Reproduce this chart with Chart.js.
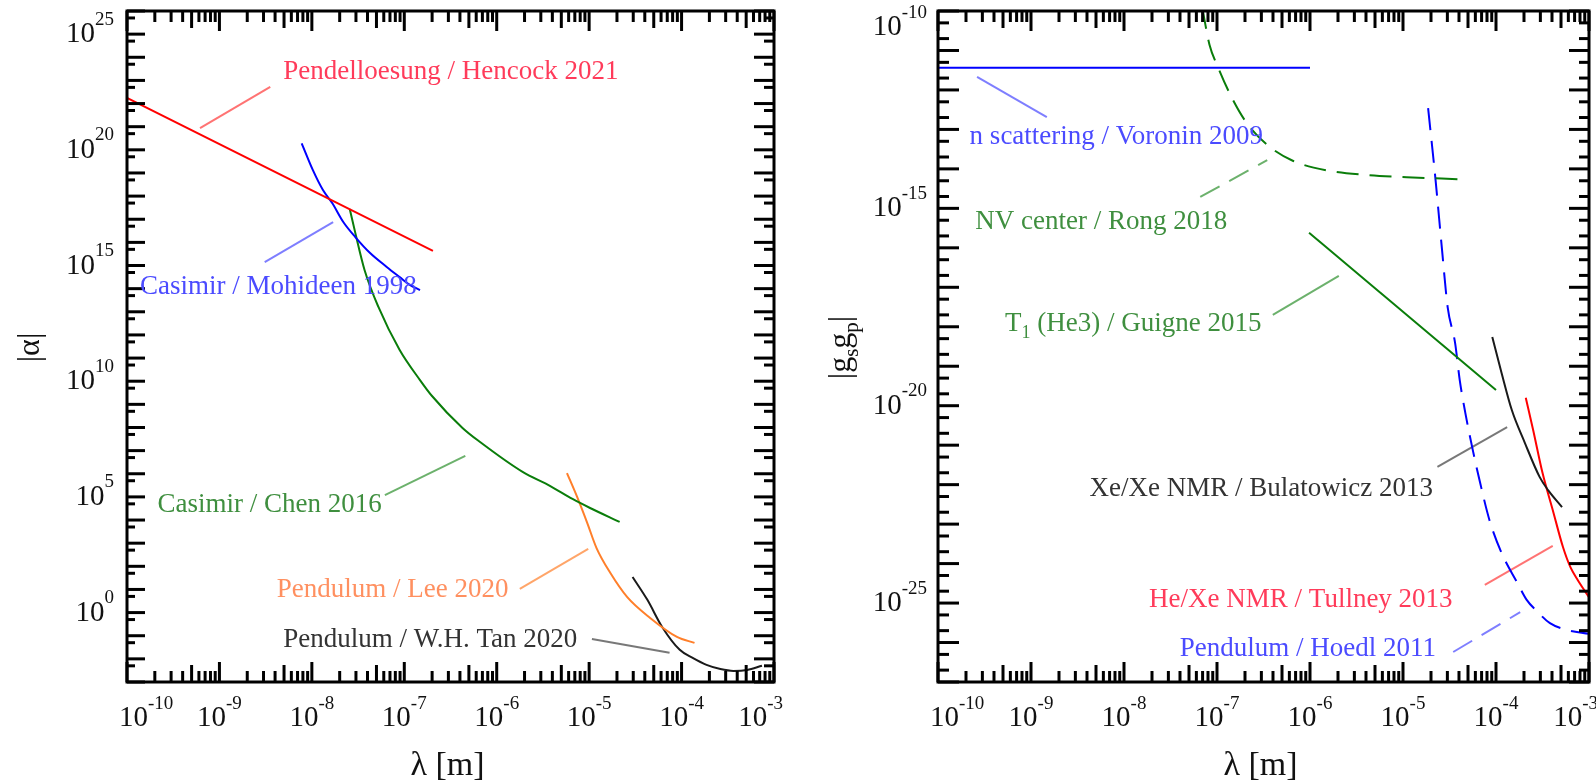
<!DOCTYPE html>
<html>
<head>
<meta charset="utf-8">
<title>Yukawa coupling limits</title>
<script src="https://cdn.jsdelivr.net/npm/chart.js@4.4.1/dist/chart.umd.min.js"></script>
<style>
  html, body { margin: 0; padding: 0; background: #fff; }
  #wrap { position: relative; width: 1596px; height: 784px; overflow: hidden; }
  .panel { position: absolute; top: 0; width: 798px; height: 784px; }
  #leftPanel { left: 0; }
  #rightPanel { left: 798px; }
</style>
</head>
<body>
<div id="wrap">
  <div class="panel" id="leftPanel"><canvas id="alphaChart" width="798" height="784"></canvas></div>
  <div class="panel" id="rightPanel"><canvas id="couplingChart" width="798" height="784"></canvas></div>
</div>
<script>
// All values are decade exponents: log10(λ / m), log10|α|, log10|g_s g_p|
const lambdaDecades = [-10, -9, -8, -7, -6, -5, -4, -3];
const alphaDecadeLabels = [0, 5, 10, 15, 20, 25];
const couplingDecadeLabels = [-25, -20, -15, -10];

// left panel: |α| limits
const hencockLogLambda = [-10, -6.69];
const hencockLogAlpha = [22.24, 15.63];

const mohideenLogLambda = [-8.11, -7.99, -7.88, -7.78, -7.66, -7.53, -7.37, -7.19, -7.05, -6.94, -6.83];
const mohideenLogAlpha = [20.28, 19.13, 18.26, 17.70, 16.88, 16.23, 15.54, 14.94, 14.50, 14.16, 13.94];

const chenLogLambda = [-7.59, -7.53, -7.43, -7.28, -7.05, -6.83, -6.70, -6.37, -6.18, -5.72, -5.42, -5.18, -4.99, -4.67];
const chenLogAlpha = [17.44, 16.41, 14.81, 13.21, 11.35, 10.05, 9.36, 7.98, 7.37, 6.08, 5.47, 4.91, 4.52, 3.92];

const leeLogLambda = [-5.24, -5.13, -5.02, -4.92, -4.77, -4.59, -4.34, -4.05, -3.86];
const leeLogAlpha = [6.03, 5.00, 3.87, 2.79, 1.71, 0.68, -0.23, -1.05, -1.31];

const tanLogLambda = [-4.53, -4.37, -4.21, -4.02, -3.88, -3.73, -3.58, -3.44, -3.29, -3.13];
const tanLogAlpha = [1.54, 0.55, -0.62, -1.61, -1.96, -2.26, -2.44, -2.52, -2.48, -2.30];

// right panel: |g_s g_p| limits
const voroninLogLambda = [-10, -6.0];
const voroninLogG = [-11.44, -11.44];

const rongLogLambda = [-7.16, -7.08, -6.99, -6.84, -6.68, -6.46, -6.18, -5.79, -5.36, -4.96, -4.41];
const rongLogG = [-9.9, -10.86, -11.42, -12.20, -12.84, -13.39, -13.80, -14.05, -14.16, -14.21, -14.26];

const guigneLogLambda = [-6.01, -4.0];
const guigneLogG = [-15.62, -19.60];

const hoedlLogLambda = [-4.73, -4.65, -4.58, -4.52, -4.44, -4.39, -4.33, -4.25, -4.17, -4.07, -3.94, -3.77, -3.67, -3.55, -3.42, -3.24, -3.0];
const hoedlLogG = [-12.46, -14.28, -16.06, -17.50, -18.41, -19.35, -20.18, -21.12, -21.96, -22.90, -23.73, -24.49, -24.92, -25.23, -25.51, -25.68, -25.78];

const bulatowiczLogLambda = [-4.04, -3.94, -3.83, -3.69, -3.53, -3.44, -3.29];
const bulatowiczLogG = [-18.26, -19.17, -20.11, -20.94, -21.81, -22.14, -22.57];

const tullneyLogLambda = [-3.68, -3.60, -3.50, -3.39, -3.28, -3.20, -3.12, -3.0];
const tullneyLogG = [-19.80, -20.62, -21.70, -22.64, -23.58, -24.09, -24.42, -24.85];

const SERIF = '"Liberation Serif", "Times New Roman", Times, serif';
const DASH = [22, 11];

const RED = '#ff0000';
const BLUE = '#0000ff';
const GREEN = '#0a7d0a';
const ORANGE = '#ff7f2a';
const BLACK = '#1a1a1a';

const TEXT = {
    red: '#ff3b5a',
    blue: '#4b4bff',
    green: '#3f8f3f',
    orange: '#ff9060',
    black: '#333333',
};
const LEADER = {
    red: 'rgba(255, 40, 40, 0.65)',
    blue: 'rgba(40, 40, 255, 0.6)',
    green: 'rgba(10, 125, 10, 0.6)',
    orange: 'rgba(255, 127, 42, 0.7)',
    black: 'rgba(30, 30, 30, 0.6)',
};

// label anchors: left edge / vertical middle, plus the leader line, in axis units
const leftPanel = {
    xRange: [-10, -3],
    yRange: [-3, 26],
    yLabels: alphaDecadeLabels,
    yMinor: [5],
    yMajorLen: 18,
    yMinorLen: 8,
    labelGap: 13,
    title: [{ t: '|α|' }],
    curves: [
        { name: 'Hencock 2021', color: RED, x: hencockLogLambda, y: hencockLogAlpha },
        { name: 'Mohideen 1998', color: BLUE, x: mohideenLogLambda, y: mohideenLogAlpha },
        { name: 'Chen 2016', color: GREEN, x: chenLogLambda, y: chenLogAlpha },
        { name: 'Lee 2020', color: ORANGE, x: leeLogLambda, y: leeLogAlpha },
        { name: 'W.H. Tan 2020', color: BLACK, x: tanLogLambda, y: tanLogAlpha },
    ],
    notes: [
        { text: [{ t: 'Pendelloesung / Hencock 2021' }], tone: 'red', at: [-8.31, 23.45], leader: [[-9.21, 20.94], [-8.45, 22.72]] },
        { text: [{ t: 'Casimir / Mohideen 1998' }], tone: 'blue', at: [-9.86, 14.16], leader: [[-8.51, 15.15], [-7.77, 16.88]] },
        { text: [{ t: 'Casimir / Chen 2016' }], tone: 'green', at: [-9.67, 4.74], leader: [[-7.21, 5.08], [-6.34, 6.77]] },
        { text: [{ t: 'Pendulum / Lee 2020' }], tone: 'orange', at: [-8.38, 1.06], leader: [[-5.75, 1.02], [-5.01, 2.75]] },
        { text: [{ t: 'Pendulum / W.H. Tan 2020' }], tone: 'black', at: [-8.31, -1.10], leader: [[-4.97, -1.14], [-4.13, -1.74]] },
    ],
};

const rightPanel = {
    xRange: [-10, -3],
    yRange: [-27, -10],
    yLabels: couplingDecadeLabels,
    yMinor: [2, 5],
    yMajorLen: 21,
    yMinorLen: 11,
    labelGap: 11,
    title: [{ t: '|g' }, { t: 's', sub: true }, { t: 'g' }, { t: 'p', sub: true }, { t: '|' }],
    curves: [
        { name: 'Voronin 2009', color: BLUE, x: voroninLogLambda, y: voroninLogG },
        { name: 'Rong 2018', color: GREEN, x: rongLogLambda, y: rongLogG, dashed: true },
        { name: 'Guigne 2015', color: GREEN, x: guigneLogLambda, y: guigneLogG },
        { name: 'Hoedl 2011', color: BLUE, x: hoedlLogLambda, y: hoedlLogG, dashed: true },
        { name: 'Bulatowicz 2013', color: BLACK, x: bulatowiczLogLambda, y: bulatowiczLogG },
        { name: 'Tullney 2013', color: RED, x: tullneyLogLambda, y: tullneyLogG },
    ],
    notes: [
        { text: [{ t: 'n scattering / Voronin 2009' }], tone: 'blue', at: [-9.66, -13.14], leader: [[-9.58, -11.67], [-8.83, -12.69]] },
        { text: [{ t: 'NV center / Rong 2018' }], tone: 'green', at: [-9.60, -15.30], leader: [[-7.18, -14.71], [-6.46, -13.78]], dashed: true },
        { text: [{ t: 'T' }, { t: '1', sub: true }, { t: ' (He3) / Guigne 2015' }], tone: 'green', at: [-9.28, -17.88], leader: [[-6.40, -17.70], [-5.69, -16.71]] },
        { text: [{ t: 'Xe/Xe NMR / Bulatowicz 2013' }], tone: 'black', at: [-8.37, -22.06], leader: [[-4.63, -21.55], [-3.88, -20.54]] },
        { text: [{ t: 'He/Xe NMR / Tullney 2013' }], tone: 'red', at: [-7.73, -24.87], leader: [[-4.12, -24.54], [-3.39, -23.55]] },
        { text: [{ t: 'Pendulum / Hoedl 2011' }], tone: 'blue', at: [-7.40, -26.11], leader: [[-4.46, -26.24], [-3.74, -25.23]], dashed: true },
    ],
};

function smallSize(size) {
    return Math.round(size * 0.65);
}

function runWidth(ctx, parts, size) {
    let w = 0;
    parts.forEach(p => {
        ctx.font = `${p.sub || p.sup ? smallSize(size) : size}px ${SERIF}`;
        w += ctx.measureText(p.t).width;
    });
    return w;
}

// draws text with sub/superscripts; y is the baseline of the full-size text
function drawRun(ctx, parts, x, y, size, align) {
    const w = runWidth(ctx, parts, size);
    let cx = x;
    if (align === 'center') cx -= w / 2;
    if (align === 'right') cx -= w;
    ctx.textAlign = 'left';
    ctx.textBaseline = 'alphabetic';
    parts.forEach(p => {
        const fs = p.sub || p.sup ? smallSize(size) : size;
        ctx.font = `${fs}px ${SERIF}`;
        let dy = 0;
        if (p.sup) dy = -size * 0.6;
        if (p.sub) dy = size * 0.24;
        ctx.fillText(p.t, cx, y + dy);
        cx += ctx.measureText(p.t).width;
    });
}

function tick(ctx, x1, y1, x2, y2) {
    ctx.beginPath();
    ctx.moveTo(x1, y1);
    ctx.lineTo(x2, y2);
    ctx.stroke();
}

function powerLabel(n) {
    return [{ t: '10' }, { t: String(n), sup: true }];
}

function makeFramePlugin(cfg) {
    return {
        id: 'frameAxes',
        afterDatasetsDraw(chart) {
            const { ctx, chartArea: a } = chart;
            const xs = chart.scales.x;
            const ys = chart.scales.y;
            ctx.save();
            ctx.strokeStyle = '#000';
            ctx.fillStyle = '#000';
            ctx.lineWidth = 3;
            ctx.lineCap = 'butt';
            ctx.strokeRect(a.left, a.top, a.right - a.left, a.bottom - a.top);

            // λ ticks: decades, 5x and the other minors, mirrored on top
            for (let d = xs.min; d <= xs.max; d++) {
                for (let m = 1; m <= 9; m++) {
                    if (d === xs.max && m > 1) break;
                    const px = xs.getPixelForValue(d + Math.log10(m));
                    const len = m === 1 ? 20 : (m === 5 ? 17 : 11);
                    tick(ctx, px, a.bottom, px, a.bottom - len);
                    tick(ctx, px, a.top, px, a.top + len);
                }
            }

            // vertical ticks, mirrored on the right edge
            for (let d = Math.ceil(ys.min); d <= ys.max; d++) {
                const py = ys.getPixelForValue(d);
                tick(ctx, a.left, py, a.left + cfg.yMajorLen, py);
                tick(ctx, a.right, py, a.right - 20, py);
                cfg.yMinor.forEach(m => {
                    const v = d - 1 + Math.log10(m);
                    if (v < ys.min) return;
                    const qy = ys.getPixelForValue(v);
                    tick(ctx, a.left, qy, a.left + cfg.yMinorLen, qy);
                    tick(ctx, a.right, qy, a.right - 10, qy);
                });
            }

            // tick labels
            ctx.fillStyle = '#111';
            lambdaDecades.forEach((d, i) => {
                const px = xs.getPixelForValue(d);
                const base = a.bottom + 44;
                if (i === 0) drawRun(ctx, powerLabel(d), px - 8, base, 29, 'left');
                else if (i === lambdaDecades.length - 1) drawRun(ctx, powerLabel(d), px + 9, base, 29, 'right');
                else drawRun(ctx, powerLabel(d), px, base, 29, 'center');
            });
            cfg.yLabels.forEach(d => {
                const py = ys.getPixelForValue(d);
                const base = Math.max(py + 8, a.top + 24);
                drawRun(ctx, powerLabel(d), a.left - cfg.labelGap, base, 29, 'right');
            });

            // axis titles
            const midX = (a.left + a.right) / 2 - 3;
            const midY = (a.top + a.bottom) / 2 + 1;
            drawRun(ctx, [{ t: 'λ [m]' }], midX, a.bottom + 93, 34, 'center');
            ctx.save();
            ctx.translate(a.left - 96, midY);
            ctx.rotate(-Math.PI / 2);
            drawRun(ctx, cfg.title, 0, 8, 32, 'center');
            ctx.restore();

            // experiment labels
            cfg.notes.forEach(n => {
                ctx.fillStyle = TEXT[n.tone];
                const px = xs.getPixelForValue(n.at[0]);
                const py = ys.getPixelForValue(n.at[1]);
                drawRun(ctx, n.text, px, py + 9, 27, 'left');
            });
            ctx.restore();
        },
    };
}

function buildPanel(canvasId, cfg, padding) {
    const datasets = [];
    cfg.curves.forEach(c => {
        datasets.push({
            label: c.name,
            data: c.x.map((x, i) => ({ x, y: c.y[i] })),
            borderColor: c.color,
            borderWidth: 2,
            borderDash: c.dashed ? DASH : [],
            pointRadius: 0,
            cubicInterpolationMode: c.x.length > 2 ? 'monotone' : 'default',
            tension: 0,
            clip: 0,
        });
    });
    cfg.notes.forEach(n => {
        datasets.push({
            label: 'leader',
            data: n.leader.map(p => ({ x: p[0], y: p[1] })),
            borderColor: LEADER[n.tone],
            borderWidth: 2,
            borderDash: n.dashed ? DASH : [],
            pointRadius: 0,
            tension: 0,
            clip: 0,
        });
    });

    return new Chart(document.getElementById(canvasId), {
        type: 'line',
        data: { datasets },
        options: {
            responsive: false,
            animation: false,
            events: [],
            layout: { padding },
            plugins: {
                legend: { display: false },
                tooltip: { enabled: false },
            },
            scales: {
                x: { type: 'linear', min: cfg.xRange[0], max: cfg.xRange[1], display: false },
                y: { type: 'linear', min: cfg.yRange[0], max: cfg.yRange[1], display: false },
            },
        },
        plugins: [makeFramePlugin(cfg)],
    });
}

buildPanel('alphaChart', leftPanel, { left: 127, right: 24, top: 11, bottom: 102 });
buildPanel('couplingChart', rightPanel, { left: 140, right: 7, top: 11, bottom: 102 });
</script>
</body>
</html>
